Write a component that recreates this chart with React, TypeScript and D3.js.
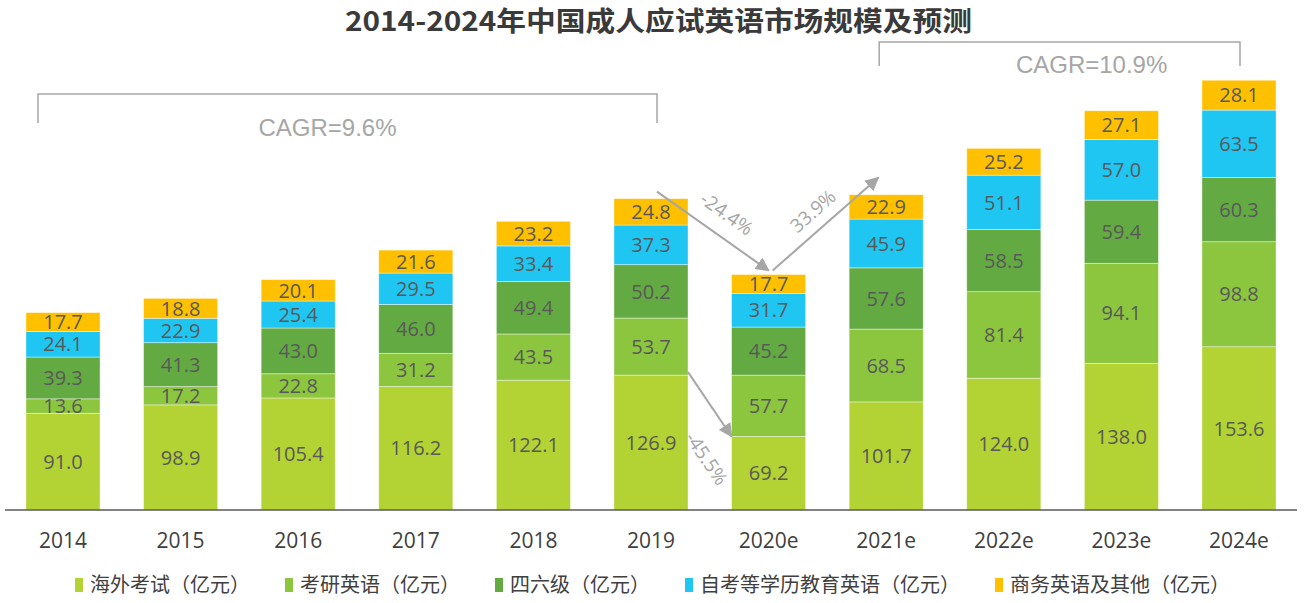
import * as d3 from "d3"

const years = ["2014", "2015", "2016", "2017", "2018", "2019", "2020e", "2021e", "2022e", "2023e", "2024e"]
const overseas = [91.0, 98.9, 105.4, 116.2, 122.1, 126.9, 69.2, 101.7, 124.0, 138.0, 153.6]
const postgrad = [13.6, 17.2, 22.8, 31.2, 43.5, 53.7, 57.7, 68.5, 81.4, 94.1, 98.8]
const cet = [39.3, 41.3, 43.0, 46.0, 49.4, 50.2, 45.2, 57.6, 58.5, 59.4, 60.3]
const selfStudy = [24.1, 22.9, 25.4, 29.5, 33.4, 37.3, 31.7, 45.9, 51.1, 57.0, 63.5]
const business = [17.7, 18.8, 20.1, 21.6, 23.2, 24.8, 17.7, 22.9, 25.2, 27.1, 28.1]

const seriesNames = [
  "海外考试（亿元）",
  "考研英语（亿元）",
  "四六级（亿元）",
  "自考等学历教育英语（亿元）",
  "商务英语及其他（亿元）",
]
const seriesColors = ["#B3D233", "#8CC63F", "#63AA43", "#20C6F2", "#FFC000"]
const seriesValues = [overseas, postgrad, cet, selfStudy, business]

const title = "2014-2024年中国成人应试英语市场规模及预测"
const cagrLeft = "CAGR=9.6%"
const cagrRight = "CAGR=10.9%"
const changeDrop = "-24.4%"
const changeRise = "33.9%"
const changeOverseas = "-45.5%"

const W = 1305
const H = 603
const baseY = 510

export default function App() {
  const x = d3
    .scaleBand<string>()
    .domain(years)
    .range([4.2, 1297.8])
    .paddingInner(0.37)
    .paddingOuter(0.185)
  const y = d3.scaleLinear().domain([0, 420]).range([baseY, baseY - 420 * 1.063])

  const table = years.map((yr, i) => {
    const row: Record<string, number | string> = { year: yr }
    seriesNames.forEach((n, k) => (row[n] = seriesValues[k][i]))
    return row
  })
  const stacked = d3.stack<any>().keys(seriesNames)(table)

  const bw = x.bandwidth()
  const cx = (yr: string) => (x(yr) ?? 0) + bw / 2
  const total = (i: number) => seriesValues.reduce((s, arr) => s + arr[i], 0)
  const gray = "#A6A6A6"

  // arrows between 2019, 2020e, 2021e
  const a1 = { x1: cx("2019") + 6, y1: y(total(5)) - 7, x2: cx("2020e"), y2: y(total(6)) - 4 }
  const a2 = { x1: cx("2020e") + 4, y1: y(total(6)) - 4, x2: cx("2021e") - 8, y2: y(total(7)) - 17 }
  const a3 = { x1: (x("2019") ?? 0) + bw, y1: y(overseas[5]) - 3, x2: x("2020e") ?? 0, y2: y(overseas[6]) }
  const ang = (a: { x1: number; y1: number; x2: number; y2: number }) =>
    (Math.atan2(a.y2 - a.y1, a.x2 - a.x1) * 180) / Math.PI

  // brackets over growth periods
  const bL = { x1: cx("2014") - 25, x2: cx("2019") + 6, top: 94, bottom: 123 }
  const bR = { x1: cx("2021e") - 7, x2: cx("2024e") + 1, top: 42, bottom: 66 }

  let legendX = 75
  const legend = seriesNames.map((n, k) => {
    const item = { name: n, color: seriesColors[k], x: legendX }
    legendX += 16 + n.length * 20 + 34
    return item
  })

  const labelFont = "'Open Sans', sans-serif"

  return (
    <div style={{ position: "absolute", left: 0, top: 0 }}>
      <svg width={W} height={H} style={{ display: "block", background: "#fff" }}>
        <defs>
          <marker id="arr" viewBox="0 0 10 10" refX="9" refY="5" markerWidth="7" markerHeight="7" orient="auto">
            <path d="M0,0 L10,5 L0,10 z" fill={gray} />
          </marker>
        </defs>

        <text
          x={W / 2 + 6}
          y={31}
          textAnchor="middle"
          fontFamily="'Noto Sans CJK SC', sans-serif"
          fontWeight="bold"
          fontSize={27}
          fill="#3a3a3a"
          textLength={627}
          lengthAdjust="spacingAndGlyphs"
        >
          {title}
        </text>

        {stacked.map((layer, k) => (
          <g key={layer.key}>
            {layer.map((d, i) => {
              const yr = years[i]
              const top = y(d[1])
              const bottom = y(d[0])
              return (
                <g key={yr}>
                  <rect
                    x={x(yr)}
                    y={top}
                    width={bw}
                    height={bottom - top}
                    fill={seriesColors[k]}
                    stroke="#ffffff"
                    strokeOpacity={0.5}
                    strokeWidth={0.8}
                  />
                  <text
                    x={cx(yr)}
                    y={(top + bottom) / 2}
                    dy="0.36em"
                    textAnchor="middle"
                    fontFamily={labelFont}
                    fontSize={20}
                    fill="#595959"
                  >
                    {seriesValues[k][i].toFixed(1)}
                  </text>
                </g>
              )
            })}
          </g>
        ))}

        <line x1={5} x2={1297} y1={baseY} y2={baseY} stroke="#595959" strokeWidth={1.5} />

        {years.map((yr) => (
          <text
            key={yr}
            x={cx(yr)}
            y={548}
            textAnchor="middle"
            fontFamily={labelFont}
            fontSize={21}
            fill="#404040"
          >
            {yr}
          </text>
        ))}

        {[bL, bR].map((b, i) => (
          <path
            key={i}
            d={`M${b.x1},${b.bottom} V${b.top} H${b.x2} V${b.bottom}`}
            fill="none"
            stroke={gray}
            strokeWidth={1.5}
          />
        ))}
        <text x={(bL.x1 + bL.x2) / 2 - 20} y={136} textAnchor="middle" fontFamily="'Liberation Sans', Arial, sans-serif" fontSize={24} fill={gray}>
          {cagrLeft}
        </text>
        <text x={(bR.x1 + bR.x2) / 2 + 32} y={73} textAnchor="middle" fontFamily="'Liberation Sans', Arial, sans-serif" fontSize={24} fill={gray}>
          {cagrRight}
        </text>

        {[a1, a2, a3].map((a, i) => (
          <line key={i} x1={a.x1} y1={a.y1} x2={a.x2} y2={a.y2} stroke={gray} strokeWidth={2} markerEnd="url(#arr)" />
        ))}
        <text
          transform={`translate(${(a1.x1 + a1.x2) / 2 + 10},${(a1.y1 + a1.y2) / 2 - 12}) rotate(${ang(a1)})`}
          textAnchor="middle"
          fontFamily={labelFont}
          fontSize={19}
          fill={gray}
        >
          {changeDrop}
        </text>
        <text
          transform={`translate(${(a2.x1 + a2.x2) / 2 - 8},${(a2.y1 + a2.y2) / 2 - 8}) rotate(${ang(a2)})`}
          textAnchor="middle"
          fontFamily={labelFont}
          fontSize={19}
          fill={gray}
        >
          {changeRise}
        </text>
        <text
          transform={`translate(${a3.x2 - 25},${a3.y2 + 22}) rotate(${ang(a3)})`}
          textAnchor="middle"
          dy="0.36em"
          fontFamily={labelFont}
          fontSize={19}
          fill={gray}
        >
          {changeOverseas}
        </text>

        {legend.map((l) => (
          <g key={l.name}>
            <rect x={l.x} y={578} width={8} height={14} fill={l.color} />
            <text
              x={l.x + 15}
              y={585}
              dy="0.36em"
              fontFamily="'Noto Sans CJK SC', sans-serif"
              fontSize={20}
              fill="#404040"
            >
              {l.name}
            </text>
          </g>
        ))}
      </svg>
    </div>
  )
}
